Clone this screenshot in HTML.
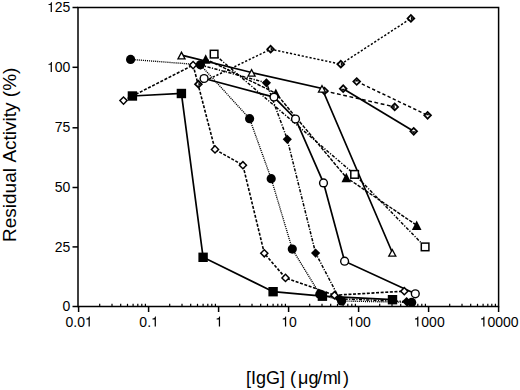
<!DOCTYPE html><html><head><meta charset="utf-8"><style>html,body{margin:0;padding:0;background:#fff}svg{display:block}text{font-family:"Liberation Sans",sans-serif;fill:#000}</style></head><body>
<svg width="520" height="390" viewBox="0 0 520 390">
<rect width="520" height="390" fill="#fff"/>
<rect x="78.0" y="7.5" width="420.6" height="299.0" fill="none" stroke="#000" stroke-width="1.5"/>
<line x1="72.5" y1="306.5" x2="78.0" y2="306.5" stroke="#000" stroke-width="1.5"/>
<text x="62.61" y="311.10" font-size="14">0</text>
<line x1="72.5" y1="246.9" x2="78.0" y2="246.9" stroke="#000" stroke-width="1.5"/>
<text x="54.83" y="251.50" font-size="14">2</text>
<text x="62.61" y="251.50" font-size="14">5</text>
<line x1="72.5" y1="187.5" x2="78.0" y2="187.5" stroke="#000" stroke-width="1.5"/>
<text x="54.83" y="192.10" font-size="14">5</text>
<text x="62.61" y="192.10" font-size="14">0</text>
<line x1="72.5" y1="127.8" x2="78.0" y2="127.8" stroke="#000" stroke-width="1.5"/>
<text x="54.83" y="132.40" font-size="14">7</text>
<text x="62.61" y="132.40" font-size="14">5</text>
<line x1="72.5" y1="67.3" x2="78.0" y2="67.3" stroke="#000" stroke-width="1.5"/>
<path d="M259,505 L102,505 L102,568 Q204,581 235,604 Q266,627 289,709 L347,709 L347,0 L259,0 Z" transform="translate(47.04,71.90) scale(0.0140,-0.0140)" fill="#000"/>
<text x="54.83" y="71.90" font-size="14">0</text>
<text x="62.61" y="71.90" font-size="14">0</text>
<line x1="72.5" y1="7.5" x2="78.0" y2="7.5" stroke="#000" stroke-width="1.5"/>
<path d="M259,505 L102,505 L102,568 Q204,581 235,604 Q266,627 289,709 L347,709 L347,0 L259,0 Z" transform="translate(47.04,12.10) scale(0.0140,-0.0140)" fill="#000"/>
<text x="54.83" y="12.10" font-size="14">2</text>
<text x="62.61" y="12.10" font-size="14">5</text>
<line x1="78.6" y1="306.5" x2="78.6" y2="312" stroke="#000" stroke-width="1.5"/>
<text x="65.48" y="326.50" font-size="14">0</text>
<text x="73.26" y="326.50" font-size="14">.</text>
<text x="77.15" y="326.50" font-size="14">0</text>
<path d="M259,505 L102,505 L102,568 Q204,581 235,604 Q266,627 289,709 L347,709 L347,0 L259,0 Z" transform="translate(84.94,326.50) scale(0.0140,-0.0140)" fill="#000"/>
<line x1="99.7" y1="303.8" x2="99.7" y2="306.5" stroke="#000" stroke-width="1.2"/>
<line x1="112.0" y1="303.8" x2="112.0" y2="306.5" stroke="#000" stroke-width="1.2"/>
<line x1="120.7" y1="303.8" x2="120.7" y2="306.5" stroke="#000" stroke-width="1.2"/>
<line x1="127.5" y1="303.8" x2="127.5" y2="306.5" stroke="#000" stroke-width="1.2"/>
<line x1="133.1" y1="303.8" x2="133.1" y2="306.5" stroke="#000" stroke-width="1.2"/>
<line x1="137.8" y1="303.8" x2="137.8" y2="306.5" stroke="#000" stroke-width="1.2"/>
<line x1="141.8" y1="303.8" x2="141.8" y2="306.5" stroke="#000" stroke-width="1.2"/>
<line x1="145.4" y1="303.8" x2="145.4" y2="306.5" stroke="#000" stroke-width="1.2"/>
<line x1="148.6" y1="306.5" x2="148.6" y2="312" stroke="#000" stroke-width="1.5"/>
<text x="139.37" y="326.50" font-size="14">0</text>
<text x="147.16" y="326.50" font-size="14">.</text>
<path d="M259,505 L102,505 L102,568 Q204,581 235,604 Q266,627 289,709 L347,709 L347,0 L259,0 Z" transform="translate(151.04,326.50) scale(0.0140,-0.0140)" fill="#000"/>
<line x1="169.7" y1="303.8" x2="169.7" y2="306.5" stroke="#000" stroke-width="1.2"/>
<line x1="182.0" y1="303.8" x2="182.0" y2="306.5" stroke="#000" stroke-width="1.2"/>
<line x1="190.7" y1="303.8" x2="190.7" y2="306.5" stroke="#000" stroke-width="1.2"/>
<line x1="197.5" y1="303.8" x2="197.5" y2="306.5" stroke="#000" stroke-width="1.2"/>
<line x1="203.1" y1="303.8" x2="203.1" y2="306.5" stroke="#000" stroke-width="1.2"/>
<line x1="207.8" y1="303.8" x2="207.8" y2="306.5" stroke="#000" stroke-width="1.2"/>
<line x1="211.8" y1="303.8" x2="211.8" y2="306.5" stroke="#000" stroke-width="1.2"/>
<line x1="215.4" y1="303.8" x2="215.4" y2="306.5" stroke="#000" stroke-width="1.2"/>
<line x1="218.6" y1="306.5" x2="218.6" y2="312" stroke="#000" stroke-width="1.5"/>
<path d="M259,505 L102,505 L102,568 Q204,581 235,604 Q266,627 289,709 L347,709 L347,0 L259,0 Z" transform="translate(215.21,326.50) scale(0.0140,-0.0140)" fill="#000"/>
<line x1="239.7" y1="303.8" x2="239.7" y2="306.5" stroke="#000" stroke-width="1.2"/>
<line x1="252.0" y1="303.8" x2="252.0" y2="306.5" stroke="#000" stroke-width="1.2"/>
<line x1="260.7" y1="303.8" x2="260.7" y2="306.5" stroke="#000" stroke-width="1.2"/>
<line x1="267.5" y1="303.8" x2="267.5" y2="306.5" stroke="#000" stroke-width="1.2"/>
<line x1="273.1" y1="303.8" x2="273.1" y2="306.5" stroke="#000" stroke-width="1.2"/>
<line x1="277.8" y1="303.8" x2="277.8" y2="306.5" stroke="#000" stroke-width="1.2"/>
<line x1="281.8" y1="303.8" x2="281.8" y2="306.5" stroke="#000" stroke-width="1.2"/>
<line x1="285.4" y1="303.8" x2="285.4" y2="306.5" stroke="#000" stroke-width="1.2"/>
<line x1="288.6" y1="306.5" x2="288.6" y2="312" stroke="#000" stroke-width="1.5"/>
<path d="M259,505 L102,505 L102,568 Q204,581 235,604 Q266,627 289,709 L347,709 L347,0 L259,0 Z" transform="translate(281.31,326.50) scale(0.0140,-0.0140)" fill="#000"/>
<text x="289.10" y="326.50" font-size="14">0</text>
<line x1="309.7" y1="303.8" x2="309.7" y2="306.5" stroke="#000" stroke-width="1.2"/>
<line x1="322.0" y1="303.8" x2="322.0" y2="306.5" stroke="#000" stroke-width="1.2"/>
<line x1="330.7" y1="303.8" x2="330.7" y2="306.5" stroke="#000" stroke-width="1.2"/>
<line x1="337.5" y1="303.8" x2="337.5" y2="306.5" stroke="#000" stroke-width="1.2"/>
<line x1="343.1" y1="303.8" x2="343.1" y2="306.5" stroke="#000" stroke-width="1.2"/>
<line x1="347.8" y1="303.8" x2="347.8" y2="306.5" stroke="#000" stroke-width="1.2"/>
<line x1="351.8" y1="303.8" x2="351.8" y2="306.5" stroke="#000" stroke-width="1.2"/>
<line x1="355.4" y1="303.8" x2="355.4" y2="306.5" stroke="#000" stroke-width="1.2"/>
<line x1="358.6" y1="306.5" x2="358.6" y2="312" stroke="#000" stroke-width="1.5"/>
<path d="M259,505 L102,505 L102,568 Q204,581 235,604 Q266,627 289,709 L347,709 L347,0 L259,0 Z" transform="translate(347.42,326.50) scale(0.0140,-0.0140)" fill="#000"/>
<text x="355.21" y="326.50" font-size="14">0</text>
<text x="362.99" y="326.50" font-size="14">0</text>
<line x1="379.7" y1="303.8" x2="379.7" y2="306.5" stroke="#000" stroke-width="1.2"/>
<line x1="392.0" y1="303.8" x2="392.0" y2="306.5" stroke="#000" stroke-width="1.2"/>
<line x1="400.7" y1="303.8" x2="400.7" y2="306.5" stroke="#000" stroke-width="1.2"/>
<line x1="407.5" y1="303.8" x2="407.5" y2="306.5" stroke="#000" stroke-width="1.2"/>
<line x1="413.1" y1="303.8" x2="413.1" y2="306.5" stroke="#000" stroke-width="1.2"/>
<line x1="417.8" y1="303.8" x2="417.8" y2="306.5" stroke="#000" stroke-width="1.2"/>
<line x1="421.8" y1="303.8" x2="421.8" y2="306.5" stroke="#000" stroke-width="1.2"/>
<line x1="425.4" y1="303.8" x2="425.4" y2="306.5" stroke="#000" stroke-width="1.2"/>
<line x1="428.6" y1="306.5" x2="428.6" y2="312" stroke="#000" stroke-width="1.5"/>
<path d="M259,505 L102,505 L102,568 Q204,581 235,604 Q266,627 289,709 L347,709 L347,0 L259,0 Z" transform="translate(413.53,326.50) scale(0.0140,-0.0140)" fill="#000"/>
<text x="421.31" y="326.50" font-size="14">0</text>
<text x="429.10" y="326.50" font-size="14">0</text>
<text x="436.89" y="326.50" font-size="14">0</text>
<line x1="449.7" y1="303.8" x2="449.7" y2="306.5" stroke="#000" stroke-width="1.2"/>
<line x1="462.0" y1="303.8" x2="462.0" y2="306.5" stroke="#000" stroke-width="1.2"/>
<line x1="470.7" y1="303.8" x2="470.7" y2="306.5" stroke="#000" stroke-width="1.2"/>
<line x1="477.5" y1="303.8" x2="477.5" y2="306.5" stroke="#000" stroke-width="1.2"/>
<line x1="483.1" y1="303.8" x2="483.1" y2="306.5" stroke="#000" stroke-width="1.2"/>
<line x1="487.8" y1="303.8" x2="487.8" y2="306.5" stroke="#000" stroke-width="1.2"/>
<line x1="491.8" y1="303.8" x2="491.8" y2="306.5" stroke="#000" stroke-width="1.2"/>
<line x1="495.4" y1="303.8" x2="495.4" y2="306.5" stroke="#000" stroke-width="1.2"/>
<line x1="498.6" y1="306.5" x2="498.6" y2="312" stroke="#000" stroke-width="1.5"/>
<path d="M259,505 L102,505 L102,568 Q204,581 235,604 Q266,627 289,709 L347,709 L347,0 L259,0 Z" transform="translate(479.63,326.50) scale(0.0140,-0.0140)" fill="#000"/>
<text x="487.42" y="326.50" font-size="14">0</text>
<text x="495.21" y="326.50" font-size="14">0</text>
<text x="502.99" y="326.50" font-size="14">0</text>
<text x="510.78" y="326.50" font-size="14">0</text>
<text x="0" y="0" font-size="19" transform="translate(16.4,242.0) rotate(-90)">Residual</text>
<text x="0" y="0" font-size="19" transform="translate(16.4,162.6) rotate(-90)">Activity (%)</text>
<text x="246" y="384.2" font-size="18">[IgG] (</text>
<text x="298" y="384.2" font-size="18">μ</text>
<text y="384.2" font-size="18"><tspan x="308.6">g</tspan><tspan x="317.3">/</tspan><tspan x="322.8">m</tspan><tspan x="337">l</tspan><tspan x="343.1">)</tspan></text>
<polyline points="132.4,96 181.4,93.5 203.1,257.3 273.1,291.7 322.4,296.2 392.5,299.7" fill="none" stroke="#000" stroke-width="1.7"/>
<polyline points="130.6,59.4 200.4,64.8 249.6,118.7 271.2,178.7 292.3,249.1 319.8,294.2 341.6,301 411.7,302.4" fill="none" stroke="#000" stroke-width="1.35" stroke-dasharray="1.1 0.95"/>
<polyline points="123.5,100.6 193.1,65.1 215,149.4 242.9,165.2 264.3,253.3 285.5,277.9 334.5,295.2 404.3,291.2" fill="none" stroke="#000" stroke-width="1.6" stroke-dasharray="3 1.6"/>
<polyline points="181.5,55.2 251.6,72.5 322,88.5 392.3,252.5" fill="none" stroke="#000" stroke-width="1.7"/>
<polyline points="205.7,59.0 275.8,93.2 346.3,177.5 416.7,225.3" fill="none" stroke="#000" stroke-width="1.45" stroke-dasharray="3.5 1.3"/>
<polyline points="214.1,54.1 354.6,174.4 425.1,246.9" fill="none" stroke="#000" stroke-width="1.45" stroke-dasharray="3.2 1.5 1.2 1.5"/>
<polyline points="204.1,78.5 274,97.1 295.5,119 323.5,182.9 344.6,261.2 415.3,293.8" fill="none" stroke="#000" stroke-width="1.7"/>
<polyline points="200.5,65 266.4,82.8 287.3,139.3 315.6,253.1 339.5,298.8 406.6,301.6" fill="none" stroke="#000" stroke-width="1.5" stroke-dasharray="3.2 1.4 1.2 1.4"/>
<polyline points="198.4,84.2 270.6,49.2 340.8,64.2 410.9,18.4" fill="none" stroke="#000" stroke-width="1.45" stroke-dasharray="2.2 1.8"/>
<polyline points="343.2,88.7 413.7,131.3" fill="none" stroke="#000" stroke-width="1.7"/>
<polyline points="356.7,81.5 427.6,115.3" fill="none" stroke="#000" stroke-width="1.45" stroke-dasharray="3.3 2.4"/>
<polyline points="324.5,91 394.7,106.9" fill="none" stroke="#000" stroke-width="1.45" stroke-dasharray="3.8 2.6"/>
<path d="M198.40,79.60 L203.00,84.20 L198.40,88.80 L193.80,84.20 Z" fill="#000"/>
<path d="M198.40,82.07 L200.53,84.20 L198.40,86.33 L196.27,84.20 Z" fill="#fff"/>
<path d="M198.40,82.07 L200.53,84.20 L198.40,86.33 Z" fill="#000"/>
<path d="M270.60,44.60 L275.20,49.20 L270.60,53.80 L266.00,49.20 Z" fill="#000"/>
<path d="M270.60,47.07 L272.73,49.20 L270.60,51.33 L268.47,49.20 Z" fill="#fff"/>
<path d="M270.60,47.07 L272.73,49.20 L270.60,51.33 Z" fill="#000"/>
<path d="M340.80,59.60 L345.40,64.20 L340.80,68.80 L336.20,64.20 Z" fill="#000"/>
<path d="M340.80,62.07 L342.93,64.20 L340.80,66.33 L338.67,64.20 Z" fill="#fff"/>
<path d="M340.80,62.07 L342.93,64.20 L340.80,66.33 Z" fill="#000"/>
<path d="M410.90,13.80 L415.50,18.40 L410.90,23.00 L406.30,18.40 Z" fill="#000"/>
<path d="M410.90,16.27 L413.03,18.40 L410.90,20.53 L408.77,18.40 Z" fill="#fff"/>
<path d="M410.90,16.27 L413.03,18.40 L410.90,20.53 Z" fill="#000"/>
<path d="M343.20,84.10 L347.80,88.70 L343.20,93.30 L338.60,88.70 Z" fill="#000"/>
<path d="M343.20,86.57 L345.33,88.70 L343.20,90.83 L341.07,88.70 Z" fill="#fff"/>
<path d="M341.07,88.70 L345.33,88.70 L343.20,90.83 Z" fill="#000"/>
<path d="M413.70,126.70 L418.30,131.30 L413.70,135.90 L409.10,131.30 Z" fill="#000"/>
<path d="M413.70,129.17 L415.83,131.30 L413.70,133.43 L411.57,131.30 Z" fill="#fff"/>
<path d="M411.57,131.30 L415.83,131.30 L413.70,133.43 Z" fill="#000"/>
<path d="M356.70,76.90 L361.30,81.50 L356.70,86.10 L352.10,81.50 Z" fill="#000"/>
<path d="M356.70,79.37 L358.83,81.50 L356.70,83.63 L354.57,81.50 Z" fill="#fff"/>
<path d="M354.57,81.50 L358.83,81.50 L356.70,79.37 Z" fill="#000"/>
<path d="M427.60,110.70 L432.20,115.30 L427.60,119.90 L423.00,115.30 Z" fill="#000"/>
<path d="M427.60,113.17 L429.73,115.30 L427.60,117.43 L425.47,115.30 Z" fill="#fff"/>
<path d="M425.47,115.30 L429.73,115.30 L427.60,113.17 Z" fill="#000"/>
<path d="M324.50,86.40 L329.10,91.00 L324.50,95.60 L319.90,91.00 Z" fill="#000"/>
<path d="M324.50,88.87 L326.63,91.00 L324.50,93.13 L322.37,91.00 Z" fill="#fff"/>
<path d="M324.50,88.87 L322.37,91.00 L324.50,93.13 Z" fill="#000"/>
<path d="M394.70,102.30 L399.30,106.90 L394.70,111.50 L390.10,106.90 Z" fill="#000"/>
<path d="M394.70,104.77 L396.83,106.90 L394.70,109.03 L392.57,106.90 Z" fill="#fff"/>
<path d="M394.70,104.77 L392.57,106.90 L394.70,109.03 Z" fill="#000"/>
<path d="M200.50,60.40 L205.10,65.00 L200.50,69.60 L195.90,65.00 Z" fill="#000"/>
<path d="M266.40,78.20 L271.00,82.80 L266.40,87.40 L261.80,82.80 Z" fill="#000"/>
<path d="M287.30,134.70 L291.90,139.30 L287.30,143.90 L282.70,139.30 Z" fill="#000"/>
<path d="M315.60,248.50 L320.20,253.10 L315.60,257.70 L311.00,253.10 Z" fill="#000"/>
<path d="M339.50,294.20 L344.10,298.80 L339.50,303.40 L334.90,298.80 Z" fill="#000"/>
<path d="M406.60,297.00 L411.20,301.60 L406.60,306.20 L402.00,301.60 Z" fill="#000"/>
<path d="M123.50,96.00 L128.10,100.60 L123.50,105.20 L118.90,100.60 Z" fill="#000"/>
<path d="M123.50,98.05 L126.05,100.60 L123.50,103.15 L120.95,100.60 Z" fill="#fff"/>
<path d="M193.10,60.50 L197.70,65.10 L193.10,69.70 L188.50,65.10 Z" fill="#000"/>
<path d="M193.10,62.55 L195.65,65.10 L193.10,67.65 L190.55,65.10 Z" fill="#fff"/>
<path d="M215.00,144.80 L219.60,149.40 L215.00,154.00 L210.40,149.40 Z" fill="#000"/>
<path d="M215.00,146.85 L217.55,149.40 L215.00,151.95 L212.45,149.40 Z" fill="#fff"/>
<path d="M242.90,160.60 L247.50,165.20 L242.90,169.80 L238.30,165.20 Z" fill="#000"/>
<path d="M242.90,162.65 L245.45,165.20 L242.90,167.75 L240.35,165.20 Z" fill="#fff"/>
<path d="M264.30,248.70 L268.90,253.30 L264.30,257.90 L259.70,253.30 Z" fill="#000"/>
<path d="M264.30,250.75 L266.85,253.30 L264.30,255.85 L261.75,253.30 Z" fill="#fff"/>
<path d="M285.50,273.30 L290.10,277.90 L285.50,282.50 L280.90,277.90 Z" fill="#000"/>
<path d="M285.50,275.35 L288.05,277.90 L285.50,280.45 L282.95,277.90 Z" fill="#fff"/>
<path d="M334.50,290.60 L339.10,295.20 L334.50,299.80 L329.90,295.20 Z" fill="#000"/>
<path d="M334.50,292.65 L337.05,295.20 L334.50,297.75 L331.95,295.20 Z" fill="#fff"/>
<path d="M404.30,286.60 L408.90,291.20 L404.30,295.80 L399.70,291.20 Z" fill="#000"/>
<path d="M404.30,288.65 L406.85,291.20 L404.30,293.75 L401.75,291.20 Z" fill="#fff"/>
<rect x="209.55" y="49.55" width="9.1" height="9.1" fill="#000"/>
<rect x="211.05" y="51.05" width="6.10" height="6.10" fill="#fff"/>
<rect x="350.05" y="169.85" width="9.1" height="9.1" fill="#000"/>
<rect x="351.55" y="171.35" width="6.10" height="6.10" fill="#fff"/>
<rect x="420.55" y="242.35" width="9.1" height="9.1" fill="#000"/>
<rect x="422.05" y="243.85" width="6.10" height="6.10" fill="#fff"/>
<path d="M205.70,54.20 L210.50,63.80 L200.90,63.80 Z" fill="#000"/>
<path d="M275.80,88.40 L280.60,98.00 L271.00,98.00 Z" fill="#000"/>
<path d="M346.30,172.70 L351.10,182.30 L341.50,182.30 Z" fill="#000"/>
<path d="M416.70,220.50 L421.50,230.10 L411.90,230.10 Z" fill="#000"/>
<path d="M181.50,50.85 L186.10,59.55 L176.90,59.55 Z" fill="#000"/>
<path d="M181.50,53.63 L183.94,58.25 L179.06,58.25 Z" fill="#fff"/>
<path d="M251.60,68.15 L256.20,76.85 L247.00,76.85 Z" fill="#000"/>
<path d="M251.60,70.93 L254.04,75.55 L249.16,75.55 Z" fill="#fff"/>
<path d="M322.00,84.15 L326.60,92.85 L317.40,92.85 Z" fill="#000"/>
<path d="M322.00,86.93 L324.44,91.55 L319.56,91.55 Z" fill="#fff"/>
<path d="M392.30,248.15 L396.90,256.85 L387.70,256.85 Z" fill="#000"/>
<path d="M392.30,250.93 L394.74,255.55 L389.86,255.55 Z" fill="#fff"/>
<circle cx="204.1" cy="78.5" r="4.6" fill="#000"/>
<circle cx="204.1" cy="78.5" r="3.20" fill="#fff"/>
<circle cx="274" cy="97.1" r="4.6" fill="#000"/>
<circle cx="274" cy="97.1" r="3.20" fill="#fff"/>
<circle cx="295.5" cy="119" r="4.6" fill="#000"/>
<circle cx="295.5" cy="119" r="3.20" fill="#fff"/>
<circle cx="323.5" cy="182.9" r="4.6" fill="#000"/>
<circle cx="323.5" cy="182.9" r="3.20" fill="#fff"/>
<circle cx="344.6" cy="261.2" r="4.6" fill="#000"/>
<circle cx="344.6" cy="261.2" r="3.20" fill="#fff"/>
<circle cx="415.3" cy="293.8" r="4.6" fill="#000"/>
<circle cx="415.3" cy="293.8" r="3.20" fill="#fff"/>
<circle cx="130.6" cy="59.4" r="4.6" fill="#000"/>
<circle cx="200.4" cy="64.8" r="4.6" fill="#000"/>
<circle cx="249.6" cy="118.7" r="4.6" fill="#000"/>
<circle cx="271.2" cy="178.7" r="4.6" fill="#000"/>
<circle cx="292.3" cy="249.1" r="4.6" fill="#000"/>
<circle cx="319.8" cy="294.2" r="4.6" fill="#000"/>
<circle cx="341.6" cy="301" r="4.6" fill="#000"/>
<circle cx="411.7" cy="302.4" r="4.6" fill="#000"/>
<rect x="127.70" y="91.30" width="9.4" height="9.4" fill="#000"/>
<rect x="176.70" y="88.80" width="9.4" height="9.4" fill="#000"/>
<rect x="198.40" y="252.60" width="9.4" height="9.4" fill="#000"/>
<rect x="268.40" y="287.00" width="9.4" height="9.4" fill="#000"/>
<rect x="317.70" y="291.50" width="9.4" height="9.4" fill="#000"/>
<rect x="387.80" y="295.00" width="9.4" height="9.4" fill="#000"/>
</svg></body></html>
